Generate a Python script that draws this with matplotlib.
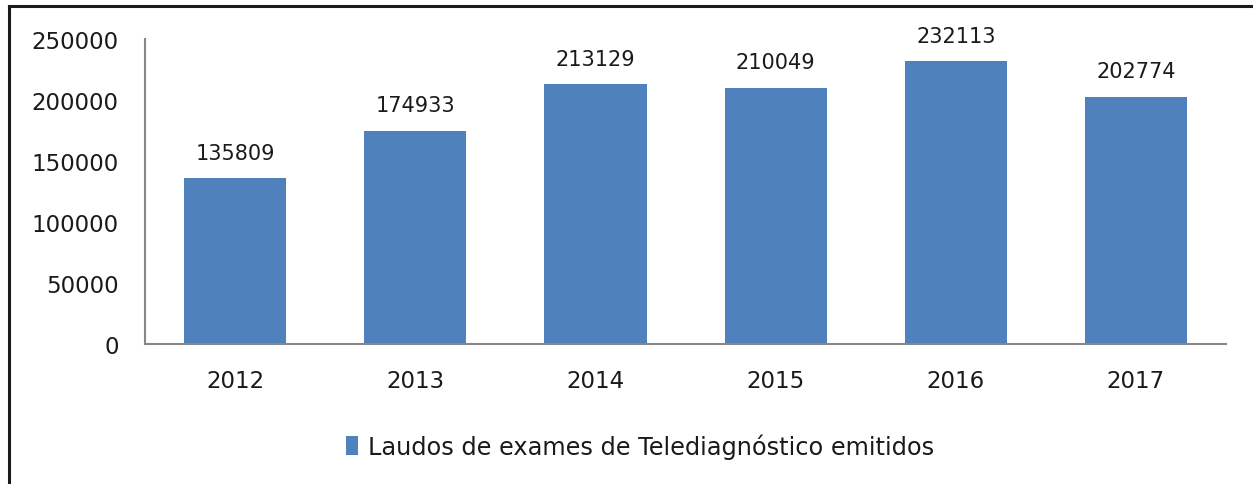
import matplotlib.pyplot as plt
from matplotlib.lines import Line2D

# Dados do gráfico
anos = ["2012", "2013", "2014", "2015", "2016", "2017"]
laudos = [135809, 174933, 213129, 210049, 232113, 202774]
serie = "Laudos de exames de Telediagnóstico emitidos"
yticks = [0, 50000, 100000, 150000, 200000, 250000]

plt.rcParams['font.family'] = ['DejaVu Sans']

fig = plt.figure(figsize=(12.53, 4.85), dpi=100)
ax = fig.add_axes([0.1157, 0.2887, 0.8628, 0.6288])

bars = ax.bar(anos, laudos, width=0.567, color="#4F81BD", label=serie)

# Rótulos de valores sobre as barras
for b, v in zip(bars, laudos):
    ax.annotate(str(v), (b.get_x() + b.get_width() / 2, v),
                xytext=(0, 11), textcoords="offset points",
                ha="center", va="bottom", fontsize=15, color="#1a1a1a")

ax.set_xlim(-0.5, len(anos) - 0.5)
ax.set_ylim(0, 250000)
ax.set_yticks(yticks)
ax.set_yticklabels([str(t) for t in yticks])
ax.tick_params(axis="both", length=0, labelsize=16.5, colors="#1a1a1a")
ax.tick_params(axis="x", pad=18)
ax.tick_params(axis="y", pad=19)

for s in ["top", "right"]:
    ax.spines[s].set_visible(False)
for s in ["left", "bottom"]:
    ax.spines[s].set_color("#868686")
    ax.spines[s].set_linewidth(1.5)

fig.legend(loc="center", bbox_to_anchor=(0.511, 0.078), frameon=False,
           fontsize=17.3, handlelength=0.5, handleheight=0.85,
           handletextpad=0.4, labelcolor="#1a1a1a")

# Moldura (esquerda e topo)
fig.add_artist(Line2D([0.0075, 0.0075], [0, 0.986], transform=fig.transFigure,
                      color="#1a1a1a", linewidth=2.2))
fig.add_artist(Line2D([0.0075, 1.0], [0.986, 0.986], transform=fig.transFigure,
                      color="#1a1a1a", linewidth=2.2))

fig.savefig("out.png", dpi=100)
